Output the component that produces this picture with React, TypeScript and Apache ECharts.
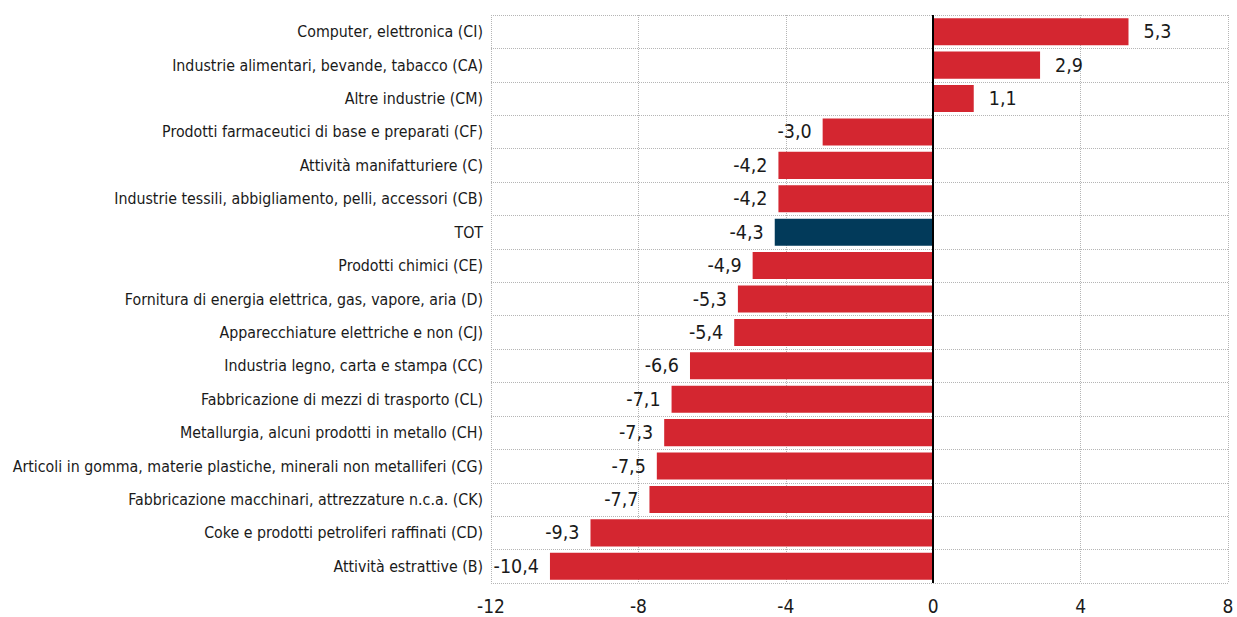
import React, { useEffect, useRef } from "react";
import * as echarts from "echarts";

const categories: string[] = [
  "Computer, elettronica (CI)",
  "Industrie alimentari, bevande, tabacco (CA)",
  "Altre industrie (CM)",
  "Prodotti farmaceutici di base e preparati (CF)",
  "Attività manifatturiere (C)",
  "Industrie tessili, abbigliamento, pelli, accessori (CB)",
  "TOT",
  "Prodotti chimici (CE)",
  "Fornitura di energia elettrica, gas, vapore, aria (D)",
  "Apparecchiature elettriche e non (CJ)",
  "Industria legno, carta e stampa (CC)",
  "Fabbricazione di mezzi di trasporto (CL)",
  "Metallurgia, alcuni prodotti in metallo (CH)",
  "Articoli in gomma, materie plastiche, minerali non metalliferi (CG)",
  "Fabbricazione macchinari, attrezzature n.c.a. (CK)",
  "Coke e prodotti petroliferi raffinati (CD)",
  "Attività estrattive (B)",
];

const values: number[] = [
  5.3, 2.9, 1.1, -3.0, -4.2, -4.2, -4.3, -4.9, -5.3, -5.4, -6.6, -7.1, -7.3, -7.5, -7.7, -9.3, -10.4,
];

const highlightCategory = "TOT";
const xTicks = { min: -12, max: 8, interval: 4 };

const RED = "#D42630";
const NAVY = "#023A5A";
const FONT = "'Liberation Sans Narrow', 'Arial Narrow', 'DejaVu Sans Condensed', sans-serif";

export default function App() {
  const ref = useRef<HTMLDivElement>(null);
  useEffect(() => {
    if (!ref.current) return;
    document.body.style.margin = "0";
    document.body.style.overflow = "hidden";
    const chart = echarts.init(ref.current, undefined, { renderer: "svg" });
    const fmt = (v: number) => v.toFixed(1).replace(".", ",");
    chart.setOption({
      animation: false,
      grid: { left: 491, right: 9, top: 15, bottom: 34, containLabel: false },
      xAxis: {
        type: "value",
        min: xTicks.min,
        max: xTicks.max,
        interval: xTicks.interval,
        axisLine: { show: false },
        axisTick: { show: false },
        axisLabel: { fontFamily: FONT, fontSize: 19, lineHeight: 19, color: "#1a1a1a", margin: 13 },
        splitLine: { show: true, lineStyle: { type: [1, 1], color: "#b5b5b5", width: 1 } },
      },
      yAxis: {
        type: "category",
        data: categories,
        inverse: true,
        axisLine: { show: false },
        axisTick: { show: false },
        axisLabel: { fontFamily: FONT, fontSize: 15.8, color: "#1a1a1a", margin: 8 },
        splitLine: { show: true, lineStyle: { type: [1, 1], color: "#b5b5b5", width: 1 } },
      },
      series: [
        {
          type: "bar",
          barCategoryGap: "19%",
          data: values.map((v, i) => ({
            value: v,
            itemStyle: { color: categories[i] === highlightCategory ? NAVY : RED },
            label: {
              show: true,
              position: v >= 0 ? "right" : "left",
              distance: v >= 0 ? 15 : 11,
              formatter: () => fmt(v),
              fontFamily: FONT,
              fontSize: 19.5,
              color: "#1a1a1a",
            },
          })),
          markLine: {
            silent: true,
            symbol: "none",
            label: { show: false },
            lineStyle: { color: "#000", width: 2, type: "solid" },
            data: [{ xAxis: 0 }],
          },
        },
      ],
    });
    return () => chart.dispose();
  }, []);
  return (
    <div
      ref={ref}
      style={{ position: "absolute", left: 0, top: 0, width: 1237, height: 617 }}
    />
  );
}
